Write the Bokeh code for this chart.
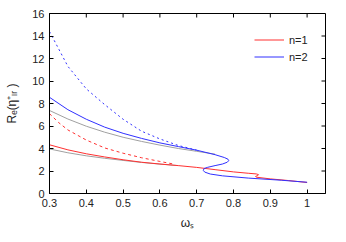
from bokeh.plotting import figure
from bokeh.models import (FixedTicker, CustomJSTickFormatter, Legend, LegendItem, Range1d)
from bokeh.embed import file_html
from bokeh.resources import INLINE

# grey reference curves
grey_up_w = [0.30, 0.35, 0.40, 0.45, 0.50, 0.55, 0.60, 0.65, 0.70, 0.75]
grey_up_r = [7.38, 6.62, 5.98, 5.45, 5.00, 4.63, 4.30, 4.00, 3.75, 3.50]
grey_lo_w = [0.30, 0.35, 0.40, 0.45, 0.50, 0.55, 0.60, 0.65]
grey_lo_r = [3.96, 3.62, 3.35, 3.13, 2.94, 2.76, 2.61, 2.48]

# n=1 (red)
red_w = [0.30, 0.35, 0.40, 0.45, 0.50, 0.55, 0.60, 0.65, 0.70, 0.75, 0.80, 0.84,
         0.862, 0.868, 0.866, 0.860, 0.862, 0.90, 0.95, 1.00]
red_r = [4.33, 3.88, 3.53, 3.25, 3.00, 2.78, 2.62, 2.48, 2.32, 2.12, 1.92, 1.80,
         1.74, 1.68, 1.60, 1.52, 1.45, 1.30, 1.15, 0.98]
red_dot_w = [0.30, 0.325, 0.35, 0.40, 0.45, 0.50, 0.55, 0.60, 0.64]
red_dot_r = [7.10, 6.30, 5.65, 4.75, 4.05, 3.58, 3.18, 2.85, 2.60]

# n=2 (blue)
blue_w = [0.30, 0.35, 0.40, 0.45, 0.50, 0.55, 0.60, 0.65, 0.70, 0.75, 0.775, 0.785,
          0.787, 0.783, 0.77, 0.75, 0.73, 0.72, 0.718, 0.722, 0.737, 0.77, 0.84, 0.93, 1.00]
blue_r = [8.55, 7.45, 6.60, 5.90, 5.35, 4.90, 4.50, 4.17, 3.85, 3.45, 3.20, 3.05,
          2.92, 2.78, 2.62, 2.48, 2.33, 2.22, 2.05, 1.90, 1.73, 1.57, 1.37, 1.18, 1.00]
blue_dot_w = [0.30, 0.35, 0.40, 0.45, 0.50, 0.55, 0.60, 0.65, 0.70]
blue_dot_r = [14.4, 11.3, 9.3, 7.9, 6.6, 5.54, 4.85, 4.27, 3.85]

x_ticks = [0.3, 0.4, 0.5, 0.6, 0.7, 0.8, 0.9, 1.0]
y_ticks = [0, 2, 4, 6, 8, 10, 12, 14, 16]
X0, X1 = 0.3, 1.05
Y0, Y1 = 0, 16

FONT = "Liberation Sans"
FW, FH = 276, 180
TICK = 4

p = figure(frame_width=FW, frame_height=FH, output_backend="svg", toolbar_location=None,
           x_range=Range1d(X0, X1), y_range=Range1d(Y0, Y1),
           min_border_left=49, min_border_right=12, min_border_top=13, min_border_bottom=40,
           x_axis_label="ωₛ", y_axis_label="Rₑ(η⁺ₗᵣ )")
p.grid.visible = False
p.outline_line_color = "black"
p.outline_line_width = 1

GREY = "#a0a0a0"
RED = "#ff3030"
BLUE = "#3030ff"

p.line(grey_up_w, grey_up_r, line_color=GREY, line_width=1)
p.line(grey_lo_w, grey_lo_r, line_color=GREY, line_width=1)
r1 = p.line(red_w, red_r, line_color=RED, line_width=1)
p.line(red_dot_w, red_dot_r, line_color=RED, line_width=1, line_dash="3 3")
r2 = p.line(blue_w, blue_r, line_color=BLUE, line_width=1)
p.line(blue_dot_w, blue_dot_r, line_color=BLUE, line_width=1, line_dash="2 3")

# mirrored inward ticks on top and right borders
ty = TICK * (Y1 - Y0) / FH
tx = TICK * (X1 - X0) / FW
p.segment(x0=x_ticks, y0=[Y1] * len(x_ticks), x1=x_ticks, y1=[Y1 - ty] * len(x_ticks),
          line_color="black", line_width=1)
p.segment(x0=[X1] * len(y_ticks), y0=y_ticks, x1=[X1 - tx] * len(y_ticks), y1=y_ticks,
          line_color="black", line_width=1)

xfmt = CustomJSTickFormatter(code="return (Math.abs(tick-1)<1e-9) ? '1' : tick.toFixed(1);")
p.xaxis.ticker = FixedTicker(ticks=x_ticks)
p.xaxis.formatter = xfmt
p.yaxis.ticker = FixedTicker(ticks=y_ticks)

for ax in list(p.xaxis) + list(p.yaxis):
    ax.major_tick_in = TICK
    ax.major_tick_out = 0
    ax.minor_tick_in = 0
    ax.minor_tick_out = 0
    ax.axis_line_color = "black"
    ax.major_tick_line_color = "black"
    ax.major_label_text_font = FONT
    ax.major_label_text_font_size = "11px"
    ax.major_label_text_color = "#222222"
    ax.axis_label_text_font = FONT
    ax.axis_label_text_font_size = "12px"
    ax.axis_label_text_font_style = "normal"
    ax.axis_label_text_color = "#222222"
    ax.major_label_standoff = 5

p.xaxis.axis_label_standoff = 6
p.yaxis.axis_label_standoff = 10

legend = Legend(items=[LegendItem(label="n=1", renderers=[r1]),
                       LegendItem(label="n=2", renderers=[r2])],
                location=(205, 128), border_line_alpha=0, background_fill_alpha=0,
                label_text_font=FONT, label_text_font_size="11px", label_text_color="#222222",
                glyph_width=30, glyph_height=17, label_height=17, spacing=0, padding=0,
                label_standoff=5, margin=0)
p.add_layout(legend)

open("out.html", "w").write(file_html(p, INLINE))
